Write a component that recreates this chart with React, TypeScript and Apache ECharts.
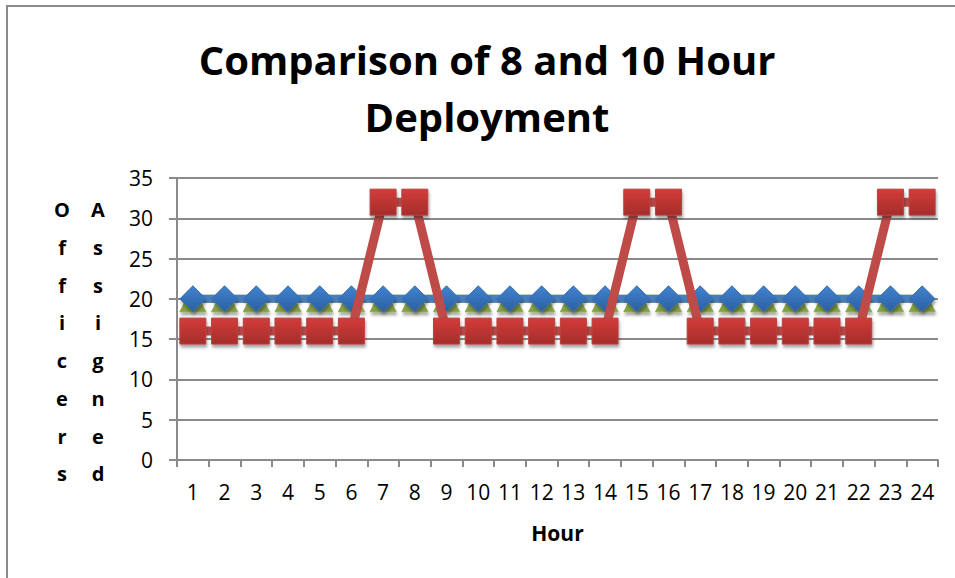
import React, { useEffect, useRef } from 'react';
import * as echarts from 'echarts';

const hours = ['1', '2', '3', '4', '5', '6', '7', '8', '9', '10', '11', '12', '13', '14', '15', '16', '17', '18', '19', '20', '21', '22', '23', '24'];
const requiredOfficers = [20, 20, 20, 20, 20, 20, 20, 20, 20, 20, 20, 20, 20, 20, 20, 20, 20, 20, 20, 20, 20, 20, 20, 20];
const eightHourOfficers = [20, 20, 20, 20, 20, 20, 20, 20, 20, 20, 20, 20, 20, 20, 20, 20, 20, 20, 20, 20, 20, 20, 20, 20];
const tenHourOfficers = [16, 16, 16, 16, 16, 16, 32, 32, 16, 16, 16, 16, 16, 16, 32, 32, 16, 16, 16, 16, 16, 16, 32, 32];
const chartTitle = 'Comparison of 8 and 10 Hour\nDeployment';
const yTitleLeft = 'Officers';
const yTitleRight = 'Assigned';
const xTitle = 'Hour';

const FONT = '"Open Sans", "Liberation Sans", sans-serif';

export default function App() {
  const ref = useRef<HTMLDivElement>(null);
  useEffect(() => {
    if (!ref.current) return;
    const chart = echarts.init(ref.current, null, { renderer: 'svg' });
    const shadow = { shadowBlur: 3, shadowOffsetX: 1, shadowOffsetY: 3, shadowColor: 'rgba(0,0,0,0.35)' };
    chart.setOption({
      animation: false,
      backgroundColor: '#ffffff',
      textStyle: { fontFamily: FONT },
      grid: { left: 177, right: 17, top: 178, bottom: 118, containLabel: false },
      graphic: [
        {
          type: 'rect',
          shape: { x: 7, y: 6, width: 960, height: 600 },
          style: { fill: 'none', stroke: '#8a8a8a', lineWidth: 2 },
          silent: true,
        },
        {
          type: 'text',
          x: 487,
          y: 31,
          style: {
            text: chartTitle,
            fontFamily: FONT,
            fontWeight: 'bold',
            fontSize: 40,
            lineHeight: 57,
            fill: '#000',
            align: 'center',
            verticalAlign: 'top',
          },
        },
        {
          type: 'text',
          x: 62,
          y: 191,
          style: {
            text: yTitleLeft.split('').join('\n'),
            fontFamily: FONT,
            fontWeight: 'bold',
            fontSize: 20,
            lineHeight: 37.7,
            fill: '#000',
            align: 'center',
            verticalAlign: 'top',
          },
        },
        {
          type: 'text',
          x: 98,
          y: 191,
          style: {
            text: yTitleRight.split('').join('\n'),
            fontFamily: FONT,
            fontWeight: 'bold',
            fontSize: 20,
            lineHeight: 37.7,
            fill: '#000',
            align: 'center',
            verticalAlign: 'top',
          },
        },
      ],
      xAxis: {
        type: 'category',
        data: hours,
        boundaryGap: true,
        name: xTitle,
        nameLocation: 'middle',
        nameGap: 62,
        nameTextStyle: { fontFamily: FONT, fontWeight: 'bold', fontSize: 21, color: '#000' },
        axisLine: { show: true, lineStyle: { color: '#8a8a8a', width: 2 } },
        axisTick: { show: true, alignWithLabel: false, length: 7, lineStyle: { color: '#8a8a8a', width: 2 } },
        axisLabel: { fontFamily: FONT, fontSize: 21, color: '#000', margin: 21, interval: 0 },
        splitLine: { show: false },
      },
      yAxis: {
        type: 'value',
        min: 0,
        max: 35,
        interval: 5,
        axisLine: { show: true, lineStyle: { color: '#8a8a8a', width: 2 } },
        axisTick: { show: true, inside: false, length: 8, lineStyle: { color: '#8a8a8a', width: 2 } },
        axisLabel: { fontFamily: FONT, fontSize: 21, color: '#000', margin: 24 },
        splitLine: { show: true, lineStyle: { color: '#8a8a8a', width: 2 } },
      },
      series: [
        {
          name: 'Required',
          type: 'line',
          data: requiredOfficers,
          symbol: 'triangle',
          symbolSize: 26,
          lineStyle: { color: '#9BBB59', width: 8 },
          itemStyle: {
            color: new echarts.graphic.LinearGradient(0, 0, 0, 1, [
              { offset: 0, color: '#a9c867' },
              { offset: 1, color: '#7f9d3f' },
            ]),
            borderColor: '#8bab4b',
            borderWidth: 1,
            ...shadow,
          },
          z: 2,
        },
        {
          name: '8 Hour',
          type: 'line',
          data: eightHourOfficers,
          symbol: 'diamond',
          symbolSize: 26,
          lineStyle: { color: '#4A7EBB', width: 8 },
          itemStyle: {
            color: new echarts.graphic.LinearGradient(0, 0, 0, 1, [
              { offset: 0, color: '#4183d0' },
              { offset: 1, color: '#2b5f9f' },
            ]),
            borderColor: '#3a70b0',
            borderWidth: 1,
            ...shadow,
          },
          z: 3,
        },
        {
          name: '10 Hour',
          type: 'line',
          data: tenHourOfficers,
          symbol: 'rect',
          symbolSize: 26,
          lineStyle: { color: '#BE4B48', width: 9 },
          itemStyle: {
            color: new echarts.graphic.LinearGradient(0, 0, 0, 1, [
              { offset: 0, color: '#d33c39' },
              { offset: 1, color: '#a52d2b' },
            ]),
            borderColor: '#b94340',
            borderWidth: 1,
            ...shadow,
          },
          z: 4,
        },
      ],
    });
    return () => chart.dispose();
  }, []);
  return (
    <div
      ref={ref}
      style={{ position: 'fixed', left: 0, top: 0, width: 955, height: 578 }}
    />
  );
}
